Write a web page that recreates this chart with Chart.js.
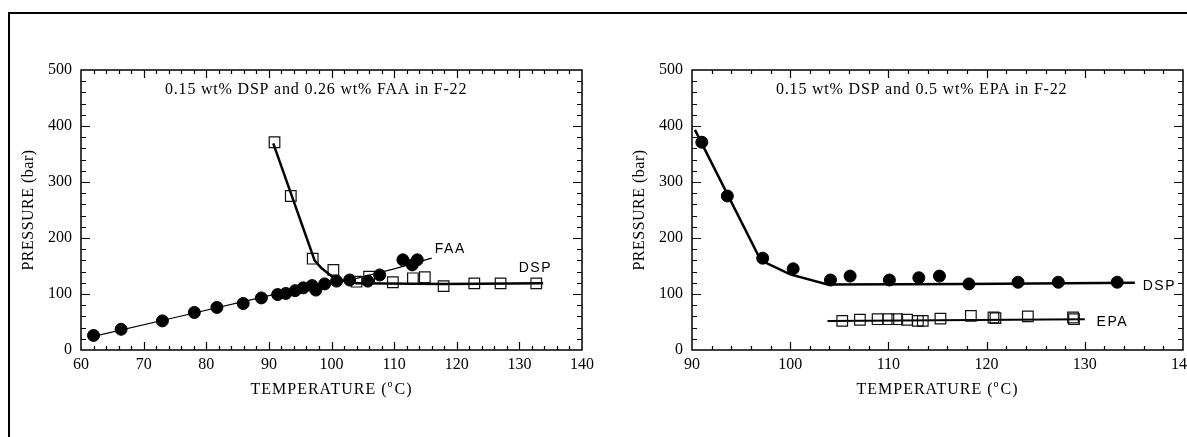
<!DOCTYPE html>
<html>
<head>
<meta charset="utf-8">
<script src="https://cdn.jsdelivr.net/npm/chart.js@4/dist/chart.umd.min.js"></script>
<style>
  html, body { margin: 0; padding: 0; background: #fff; overflow: hidden; width: 1187px; height: 437px; }
  #frame { position: absolute; left: 8px; top: 12px; width: 1400px; height: 600px; border: 2px solid #000; }
  canvas { position: absolute; top: 0; }
  #left { left: 0; }
  #right { left: 600px; }
</style>
</head>
<body>
<div id="frame"></div>
<canvas id="left" width="600" height="437"></canvas>
<canvas id="right" width="600" height="437"></canvas>
<script>
// ---- left panel: 0.15 wt% DSP and 0.26 wt% FAA in F-22 ----
const leftCircleT = [62.0, 66.4, 73.0, 78.1, 81.7, 85.9, 88.8, 91.4, 92.7, 94.2, 95.5, 96.9, 97.5, 98.9, 100.8, 102.9, 105.8, 107.7, 111.4, 112.9, 113.7];
const leftCircleP = [26, 37, 52, 67, 76, 83, 93, 99, 101, 106, 111, 115, 107, 118, 123, 125, 123, 134, 161, 152, 161];
const leftSquareT = [90.9, 93.5, 97.0, 100.3, 104.0, 106.0, 109.8, 113.0, 114.9, 117.9, 122.8, 127.0, 132.7];
const leftSquareP = [371, 275, 163, 143, 122, 131, 121, 128, 130, 114, 119, 119, 119];
const leftDspLineT = [90.7, 97.3, 98.3, 100.0, 101.8, 104.0, 118.0, 133.8];
const leftDspLineP = [369, 160, 147, 132, 124, 119, 118, 119];
const leftFaaLineT = [61.5, 75, 90, 100, 104, 110, 116];
const leftFaaLineP = [23, 58, 97, 121, 128, 145, 164];

// ---- right panel: 0.15 wt% DSP and 0.5 wt% EPA in F-22 ----
const rightCircleT = [91.0, 93.6, 97.2, 100.3, 104.1, 106.1, 110.1, 113.1, 115.2, 118.2, 123.2, 127.3, 133.3];
const rightCircleP = [371, 275, 164, 145, 125, 132, 125, 129, 132, 118, 121, 121, 121];
const rightSquareT = [105.3, 107.1, 108.9, 110.0, 110.9, 111.9, 113.0, 113.5, 115.3, 118.4, 120.7, 120.9, 124.2, 128.8, 128.9];
const rightSquareP = [52, 54, 55, 55, 55, 54, 52, 52, 56, 61, 58, 57, 60, 58, 55];
const rightDspLineT = [90.3, 97.0, 100.0, 103.8, 118.0, 135.1];
const rightDspLineP = [393, 160, 135, 117, 118, 120];
const rightEpaLineT = [103.8, 130.0];
const rightEpaLineP = [52, 55];

// curve labels: [text, T, P]
const leftLabels = [["FAA", 116.5, 180], ["DSP", 129.9, 146]];
const rightLabels = [["DSP", 135.9, 114], ["EPA", 131.2, 50]];

const serif = '"Liberation Serif", "Times New Roman", serif';
const sans = '"Liberation Sans", Arial, sans-serif';

function pts(xs, ys) {
    return xs.map((x, i) => ({ x: x, y: ys[i] }));
}

function lineSet(xs, ys, width) {
    return { data: pts(xs, ys), showLine: true, pointRadius: 0, borderColor: "#000", borderWidth: width, tension: 0, order: 2 };
}

function circleSet(xs, ys) {
    return { data: pts(xs, ys), showLine: false, pointStyle: "circle", pointRadius: 6,
        backgroundColor: "#000", borderColor: "#000", borderWidth: 1, order: 1 };
}

function squareSet(xs, ys) {
    return { data: pts(xs, ys), showLine: false, pointStyle: "rect", pointRadius: 7.5,
        backgroundColor: "rgba(0,0,0,0)", borderColor: "#111", borderWidth: 1.2, order: 1 };
}

function spaced(ctx, px) {
    if ("letterSpacing" in ctx) ctx.letterSpacing = px + "px";
}

// frame, inward ticks on all sides, titles and curve labels
function decor(title, labels) {
    return {
        id: "decor",
        afterDraw(chart) {
            const ctx = chart.ctx, a = chart.chartArea;
            const xs = chart.scales.x, ys = chart.scales.y;
            ctx.save();
            ctx.strokeStyle = "#000";
            ctx.lineWidth = 1.5;
            ctx.strokeRect(a.left, a.top, a.right - a.left, a.bottom - a.top);

            ctx.lineWidth = 1.2;
            ctx.beginPath();
            for (let v = xs.min + 2; v < xs.max - 0.01; v += 2) {
                const px = Math.round(xs.getPixelForValue(v)) + 0.5;
                const len = Math.abs(v % 10) < 0.01 ? 8 : 4;
                ctx.moveTo(px, a.bottom); ctx.lineTo(px, a.bottom - len);
                ctx.moveTo(px, a.top); ctx.lineTo(px, a.top + len);
            }
            for (let v = ys.min + 20; v < ys.max - 0.01; v += 20) {
                const py = Math.round(ys.getPixelForValue(v)) + 0.5;
                const len = v % 100 === 0 ? 9 : 5;
                ctx.moveTo(a.left, py); ctx.lineTo(a.left + len, py);
                ctx.moveTo(a.right, py); ctx.lineTo(a.right - len, py);
            }
            ctx.stroke();

            ctx.fillStyle = "#000";
            // panel title
            ctx.font = "16px " + serif;
            spaced(ctx, 0.8);
            ctx.textAlign = "left";
            ctx.textBaseline = "middle";
            ctx.fillText(title, a.left + 84, a.top + 20);

            // x axis title with superscript degree
            const p1 = "TEMPERATURE (", p2 = "o", p3 = "C)";
            ctx.font = "16px " + serif;
            spaced(ctx, 1);
            const w1 = ctx.measureText(p1).width, w3 = ctx.measureText(p3).width;
            ctx.font = "10px " + serif;
            const w2 = ctx.measureText(p2).width + 1;
            let x0 = (a.left + a.right) / 2 - (w1 + w2 + w3) / 2;
            const yT = a.bottom + 40;
            ctx.font = "16px " + serif;
            ctx.fillText(p1, x0, yT);
            ctx.font = "10px " + serif;
            ctx.fillText(p2, x0 + w1, yT - 6);
            ctx.font = "16px " + serif;
            ctx.fillText(p3, x0 + w1 + w2, yT);

            // y axis title
            ctx.save();
            ctx.translate(a.left - 52, (a.top + a.bottom) / 2);
            ctx.rotate(-Math.PI / 2);
            ctx.textAlign = "center";
            spaced(ctx, 0.5);
            ctx.fillText("PRESSURE (bar)", 0, 0);
            ctx.restore();

            // curve labels
            ctx.font = "14px " + sans;
            spaced(ctx, 1.5);
            ctx.textAlign = "left";
            labels.forEach(l => {
                ctx.fillText(l[0], xs.getPixelForValue(l[1]), ys.getPixelForValue(l[2]));
            });
            ctx.restore();
        }
    };
}

function makeChart(id, xmin, xmax, yWidth, padRight, datasets, title, labels) {
    return new Chart(document.getElementById(id), {
        type: "scatter",
        data: { datasets: datasets },
        options: {
            responsive: false,
            animation: false,
            devicePixelRatio: 1,
            layout: { autoPadding: false, padding: { left: 0, top: 70, right: padRight, bottom: 0 } },
            plugins: { legend: { display: false }, tooltip: { enabled: false } },
            scales: {
                x: {
                    type: "linear", min: xmin, max: xmax,
                    grid: { display: false, drawTicks: false },
                    border: { display: false },
                    ticks: { stepSize: 10, color: "#000", padding: 5, font: { family: serif, size: 16 }, maxRotation: 0 },
                    afterFit(s) { s.height = 87; }
                },
                y: {
                    type: "linear", min: 0, max: 500,
                    grid: { display: false, drawTicks: false },
                    border: { display: false },
                    ticks: { stepSize: 100, color: "#000", padding: 9, font: { family: serif, size: 16 } },
                    afterFit(s) { s.width = yWidth; }
                }
            }
        },
        plugins: [decor(title, labels)]
    });
}

makeChart("left", 60, 140, 81, 18, [
    lineSet(leftDspLineT, leftDspLineP, 2.5),
    lineSet(leftFaaLineT, leftFaaLineP, 1.2),
    squareSet(leftSquareT, leftSquareP),
    circleSet(leftCircleT, leftCircleP)
], "0.15 wt% DSP and 0.26 wt% FAA in F-22", leftLabels);

makeChart("right", 90, 140, 92, 17, [
    lineSet(rightDspLineT, rightDspLineP, 2.5),
    lineSet(rightEpaLineT, rightEpaLineP, 2),
    squareSet(rightSquareT, rightSquareP),
    circleSet(rightCircleT, rightCircleP)
], "0.15 wt% DSP and 0.5 wt% EPA in F-22", rightLabels);
</script>
</body>
</html>
